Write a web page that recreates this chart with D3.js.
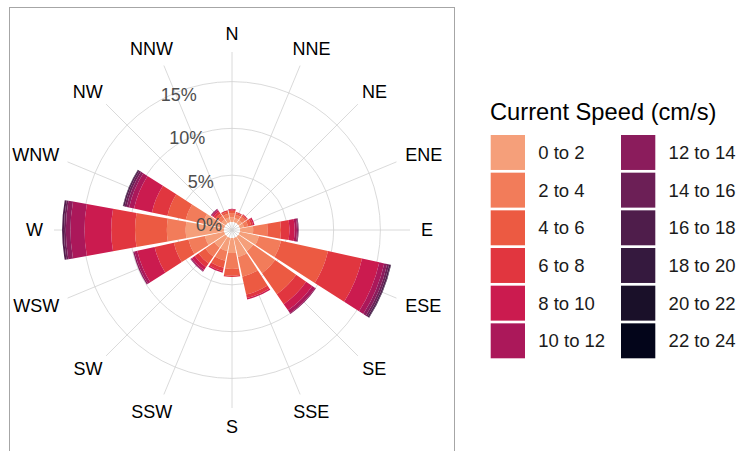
<!DOCTYPE html>
<html>
<head>
<meta charset="utf-8">
<script src="https://cdn.jsdelivr.net/npm/d3@7"></script>
<style>
  body { margin: 0; background: #fff; }
  svg text { font-family: "Liberation Sans", Arial, sans-serif; }
</style>
</head>
<body>
<div id="rose"></div>
<script>
// directions (clockwise from north) and speed bins
var directions = ["N", "NNE", "NE", "ENE", "E", "ESE", "SE", "SSE", "S", "SSW", "SW", "WSW", "W", "WNW", "NW", "NNW"];
var speedBins = ["0 to 2", "2 to 4", "4 to 6", "6 to 8", "8 to 10", "10 to 12", "12 to 14", "14 to 16", "16 to 18", "18 to 20", "20 to 22", "22 to 24"];

// percent of time in each direction, one array per speed bin
var s0_2   = [0.5, 0.45, 0.45, 0.45, 1.4, 2.08, 1.9, 2.08, 1.6, 1.44, 1.44, 2.1, 4.1, 2.3, 0.5, 0.5];
var s2_4   = [0.45, 0.35, 0.4, 0.45, 1.55, 2.43, 2.86, 2.16, 1.7, 1.06, 1.16, 1.8, 2.0, 1.9, 0.45, 0.4];
var s4_6   = [0.25, 0.2, 0.2, 0.35, 1.43, 5.13, 2.74, 1.95, 0.73, 0.77, 0.9, 1.6, 3.4, 2.0, 0.35, 0.25];
var s6_8   = [0.12, 0.1, 0.1, 0.2, 0.91, 3.73, 1.3, 0.38, 0.14, 0.38, 0.5, 2.1, 2.55, 1.7, 0.25, 0.15];
var s8_10  = [0.08, 0, 0.05, 0.15, 0.54, 1.89, 0.8, 0.16, 0, 0.16, 0.35, 1.9, 2.85, 1.96, 0.2, 0];
var s10_12 = [0, 0, 0, 0, 0.25, 0.54, 0.37, 0, 0, 0, 0.15, 0.3, 1.5, 0.54, 0.1, 0];
var s12_14 = [0, 0, 0, 0, 0.11, 0.32, 0.1, 0, 0, 0, 0.07, 0.15, 0.5, 0.27, 0.05, 0];
var s14_16 = [0, 0, 0, 0, 0.07, 0.22, 0, 0, 0, 0, 0, 0, 0.2, 0.23, 0, 0];
var s16_18 = [0, 0, 0, 0, 0, 0.16, 0, 0, 0, 0, 0, 0, 0.2, 0.15, 0, 0];
var s18_20 = [0, 0, 0, 0, 0, 0.05, 0, 0, 0, 0, 0, 0, 0, 0.04, 0, 0];
var s20_22 = [0, 0, 0, 0, 0, 0, 0, 0, 0, 0, 0, 0, 0, 0, 0, 0];
var s22_24 = [0, 0, 0, 0, 0, 0, 0, 0, 0, 0, 0, 0, 0, 0, 0, 0];

var radialTicks = [0, 5, 10, 15];

// rocket palette, light -> dark
var palette = ["#F59F7A", "#F27C5A", "#EC5A42", "#E1363F", "#CB1B4F", "#AB185A",
               "#8B1C5C", "#6C1F56", "#4F1D4B", "#35193E", "#1A1029", "#03051A"];

var width = 740, height = 451;
var cx = 232, cy = 230, R = 178;

var svg = d3.select("#rose").append("svg").attr("width", width).attr("height", height);

// build stacked table
var series = [s0_2, s2_4, s4_6, s6_8, s8_10, s10_12, s12_14, s14_16, s16_18, s18_20, s20_22, s22_24];
var table = directions.map(function (d, i) {
  var row = { dir: d };
  speedBins.forEach(function (b, j) { row[b] = series[j][i]; });
  return row;
});
var stacked = d3.stack().keys(speedBins)(table);
var maxTotal = d3.max(table, function (row) { return d3.sum(speedBins, function (b) { return row[b]; }); });

var angle = d3.scaleBand().domain(directions).range([-Math.PI / 16, 2 * Math.PI - Math.PI / 16]).paddingInner(0.1).paddingOuter(0.05);
var rScale = d3.scaleLinear().domain([-0.05 * maxTotal, 1.05 * maxTotal]).range([0, R]);
var color = d3.scaleOrdinal().domain(speedBins).range(palette);

// panel border
svg.append("rect").attr("x", 9.5).attr("y", 7.5).attr("width", 445).attr("height", 446)
  .attr("fill", "none").attr("stroke", "#a6a6a6").attr("stroke-width", 1);

var g = svg.append("g").attr("transform", "translate(" + cx + "," + cy + ")");

// grid circles
g.selectAll("circle.grid").data(radialTicks.filter(function (t) { return t > 0; })).enter()
  .append("circle").attr("class", "grid").attr("r", function (d) { return rScale(d); })
  .attr("fill", "none").attr("stroke", "#d0d0d0").attr("stroke-width", 0.8);

// spokes
function theta(d) { return angle(d) + angle.bandwidth() / 2; }
g.selectAll("line.spoke").data(directions).enter().append("line")
  .attr("x1", 0).attr("y1", 0)
  .attr("x2", function (d) { return R * Math.sin(theta(d)); })
  .attr("y2", function (d) { return -R * Math.cos(theta(d)); })
  .attr("stroke", "#d0d0d0").attr("stroke-width", 0.8);

// bars
var arc = d3.arc()
  .innerRadius(function (d) { return rScale(d[0]); })
  .outerRadius(function (d) { return rScale(d[1]); })
  .startAngle(function (d) { return angle(d.data.dir); })
  .endAngle(function (d) { return angle(d.data.dir) + angle.bandwidth(); });

g.selectAll("g.layer").data(stacked).enter().append("g").attr("class", "layer")
  .attr("fill", function (d) { return color(d.key); })
  .selectAll("path").data(function (d) { return d.filter(function (s) { return s[1] > s[0]; }); })
  .enter().append("path").attr("d", arc);

// radial tick labels
g.selectAll("text.rlab").data(radialTicks).enter().append("text")
  .attr("x", function (d) { return -8.5 - 0.18 * rScale(d); })
  .attr("y", function (d) { return 1.5 - 0.92 * rScale(d); })
  .attr("dy", "0.36em")
  .attr("text-anchor", "end")
  .attr("fill", "#4d4d4d").style("font-size", "18px")
  .text(function (d) { return d + "%"; });

// direction labels
var labR = 189, labH = 14.6;
g.selectAll("text.dir").data(directions).enter().append("text")
  .style("font-size", "18px").attr("fill", "#000").attr("text-anchor", "middle")
  .text(function (d) { return d; })
  .each(function (d) {
    var t = theta(d), w = this.getComputedTextLength();
    var x = labR * Math.sin(t) + Math.sin(t) * w / 2;
    var y = -labR * Math.cos(t) - Math.cos(t) * labH / 2;
    d3.select(this).attr("x", x).attr("y", y + 6.4);
  });

// legend
var legend = svg.append("g");
legend.append("text").attr("x", 490).attr("y", 119.5).style("font-size", "23.7px").attr("fill", "#000")
  .text("Current Speed (cm/s)");

var rowY = d3.scaleBand().domain(d3.range(6)).range([135, 358.3]).paddingInner(0.072);
var colX = [490.7, 621];
var items = legend.selectAll("g.item").data(speedBins).enter().append("g")
  .attr("transform", function (d, i) { return "translate(" + colX[Math.floor(i / 6)] + "," + rowY(i % 6) + ")"; });
items.append("rect").attr("width", 34.3).attr("height", rowY.bandwidth())
  .attr("fill", function (d) { return color(d); });
items.append("text").attr("x", 47.6).attr("y", rowY.bandwidth() / 2).attr("dy", "0.36em")
  .style("font-size", "18.5px").attr("fill", "#1a1a1a").text(function (d) { return d; });
</script>
</body>
</html>
